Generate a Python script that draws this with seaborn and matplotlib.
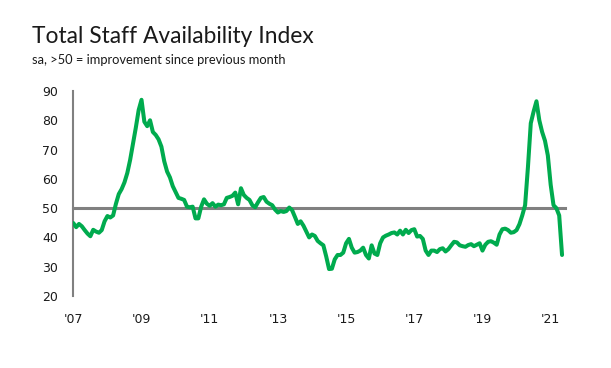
import numpy as np
import pandas as pd
import matplotlib
matplotlib.use('Agg')
import matplotlib.pyplot as plt
import seaborn as sns

# monthly index values, Jan 2007 - May 2021
start_year = 2007
values = [
    # 2007
    44.9, 43.5, 44.6, 43.8, 42.5, 41.3, 40.4, 42.6, 42.0, 41.6, 42.5, 45.5,
    # 2008
    47.3, 46.8, 47.5, 51.5, 54.8, 56.5, 58.8, 62.0, 66.5, 72.0, 77.5, 83.5,
    # 2009
    87.0, 79.5, 78.0, 80.0, 76.0, 75.0, 73.5, 71.0, 66.0, 62.5, 60.5, 57.5,
    # 2010
    55.5, 53.5, 53.2, 52.8, 50.5, 50.3, 50.5, 46.5, 46.5, 50.5, 53.0, 51.5,
    # 2011
    50.8, 51.7, 50.5, 51.2, 51.0, 51.3, 53.5, 53.8, 54.2, 55.3, 51.3, 56.8,
    # 2012
    54.5, 53.5, 52.8, 51.0, 50.3, 52.0, 53.5, 53.8, 52.2, 51.5, 51.0, 49.5,
    # 2013
    48.5, 49.0, 48.7, 49.0, 50.2, 49.3, 47.0, 44.6, 45.5, 44.0, 42.0, 40.0,
    # 2014
    41.0, 40.5, 38.8, 38.0, 37.3, 33.5, 29.2, 29.3, 32.5, 34.0, 34.0, 34.8,
    # 2015
    38.0, 39.5, 36.5, 34.8, 35.0, 35.5, 36.5, 34.0, 32.8, 37.3, 34.5, 34.0,
    # 2016
    38.0, 40.0, 40.6, 41.0, 41.5, 41.7, 41.0, 42.3, 41.0, 42.6, 41.5, 42.5,
    # 2017
    42.8, 40.3, 40.5, 39.5, 35.5, 34.0, 35.5, 35.5, 35.0, 36.0, 36.3, 35.2,
    # 2018
    36.0, 37.3, 38.5, 38.3, 37.3, 37.0, 36.8, 37.4, 37.7, 37.0, 37.5, 38.0,
    # 2019
    35.5, 37.5, 38.5, 38.7, 38.2, 37.5, 41.0, 42.8, 43.0, 42.5, 41.6, 41.8,
    # 2020
    42.5, 44.5, 47.5, 51.0, 64.0, 79.0, 83.0, 86.5, 80.0, 76.0, 73.0, 68.0,
    # 2021
    58.0, 51.0, 50.0, 47.5, 34.0,
]
tick_years = [2007, 2009, 2011, 2013, 2015, 2017, 2019, 2021]
tick_labels = ["'07", "'09", "'11", "'13", "'15", "'17", "'19", "'21"]
y_ticks = [20, 30, 40, 50, 60, 70, 80, 90]

df = pd.DataFrame({'year': start_year + np.arange(len(values)) / 12.0,
                   'index': values})

sns.set_style('white')
plt.rcParams['font.family'] = ['DejaVu Sans']

grey = '#808080'
green = '#00ab4e'
text_col = '#1a1a1a'

fig = plt.figure(figsize=(6.11, 3.68), dpi=100)
ax = fig.add_axes([0.12, 0.1957, 0.8047, 0.557])

sns.lineplot(data=df, x='year', y='index', color=green, linewidth=2.9,
             ax=ax, zorder=3)

ax.set_xlim(2007.0, 2021.42)
ax.set_ylim(20, 90)
ax.set_xlabel('')
ax.set_ylabel('')

# the x axis line sits at 50
for s in ['top', 'right']:
    ax.spines[s].set_visible(False)
ax.spines['bottom'].set_position(('data', 50))
ax.spines['bottom'].set_color(grey)
ax.spines['bottom'].set_linewidth(2.2)
ax.spines['bottom'].set_zorder(2)
ax.spines['left'].set_color(grey)
ax.spines['left'].set_linewidth(1.5)

ax.set_xticks(tick_years)
ax.tick_params(axis='x', direction='out', length=4, width=1.8, color=grey,
               labelbottom=False)
ax.set_yticks(y_ticks)
ax.tick_params(axis='y', direction='out', length=4, width=1.5, color=grey,
               labelsize=9, labelcolor=text_col, pad=7)

# tick labels at the bottom of the plot
sec = ax.secondary_xaxis('bottom')
sec.set_xticks(tick_years, tick_labels)
sec.spines['bottom'].set_visible(False)
sec.tick_params(axis='x', length=0, pad=12, labelsize=9, labelcolor=text_col)

fig.text(0.0524, 0.882, 'Total Staff Availability Index', fontsize=16.4,
         family=['Lato', 'DejaVu Sans'], color=text_col, va='baseline')
fig.text(0.0524, 0.826, 'sa, >50 = improvement since previous month',
         fontsize=9.3, family=['Lato', 'DejaVu Sans'], color=text_col,
         va='baseline')

fig.savefig('out.png', dpi=100)
